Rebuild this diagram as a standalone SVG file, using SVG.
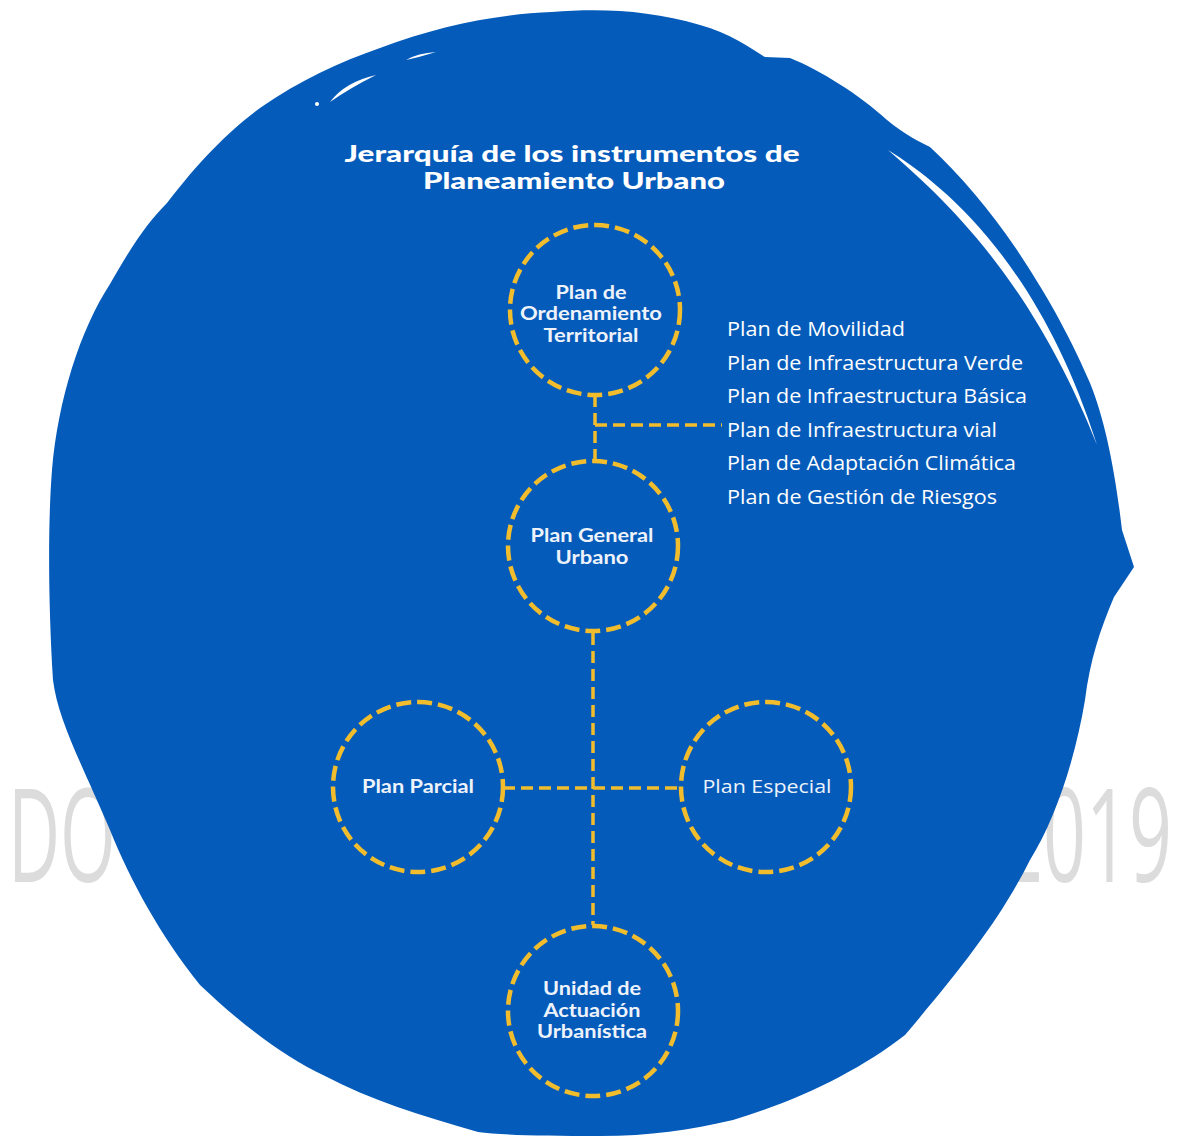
<svg xmlns="http://www.w3.org/2000/svg" width="1178" height="1137" viewBox="0 0 1178 1137">
<style>
.wm{font-family:"Open Sans","DejaVu Sans",sans-serif;font-size:130px;fill:#dcdcdc}
.ttl{font-family:Lato,"Liberation Sans",sans-serif;font-weight:900;font-size:23px;fill:#ffffff;text-anchor:middle}
.nd{fill:none;stroke:#f2bd2c;stroke-width:4.5;stroke-dasharray:15 6}
.lbl{font-family:Lato,"Liberation Sans",sans-serif;font-weight:700;font-size:19px;fill:#eef3fb;text-anchor:middle}
.lbl2{font-family:"Open Sans","Liberation Sans",sans-serif;font-size:19px;fill:#eef3fb;text-anchor:middle}
.lst{font-family:"Open Sans","Liberation Sans",sans-serif;font-size:20px;fill:#ffffff}
.cn{fill:none;stroke:#f2bd2c;stroke-width:3.5;stroke-dasharray:12 6}
</style>
<rect width="1178" height="1137" fill="#ffffff"/>
<g id="watermark">
<text class="wm" x="8" y="882" textLength="108" lengthAdjust="spacingAndGlyphs">DO</text>
<text class="wm" x="1000" y="882" textLength="172" lengthAdjust="spacingAndGlyphs">2019</text>
</g>
<g id="background">
<path fill="#055bba" d="M 552 12 C 600 8, 650 10, 700 25 C 730 33, 750 48, 765 57 L 790 58 C 820 70, 860 95, 887 120 C 905 135, 920 142, 930 147 C 960 175, 990 210, 1017 250 C 1040 285, 1065 325, 1090 383 C 1105 420, 1115 470, 1122 530 L 1134 567 L 1114 597 C 1100 630, 1090 660, 1085 700 C 1075 760, 1055 820, 1030 860 C 1000 920, 960 970, 905 1035 C 860 1070, 800 1100, 733 1120 C 690 1130, 650 1136, 600 1136 C 540 1136, 500 1135, 478 1132 C 420 1115, 370 1100, 325 1076 C 280 1055, 237 1020, 200 985 C 160 935, 130 880, 110 830 C 80 760, 58 720, 53 680 C 48 600, 48 520, 52 470 C 58 400, 80 330, 110 284 C 135 240, 150 220, 167 203 C 200 160, 230 130, 260 108 C 300 80, 340 62, 380 48 C 440 25, 500 14, 552 12 Z"/>
<path fill="#ffffff" d="M 888 150 C 945 185, 1040 265, 1097 445 C 1030 275, 940 195, 888 150 Z"/>
<path fill="#ffffff" d="M 330 102 Q 345 82 376 75 Q 350 88 330 102 Z"/>
<path fill="#ffffff" d="M 406 60 Q 418 53 436 52 Q 420 57 406 60 Z"/>
<circle cx="317" cy="104" r="2" fill="#ffffff"/>
</g>
<g id="title">
<text class="ttl" x="572" y="162" textLength="455" lengthAdjust="spacingAndGlyphs">Jerarquía de los instrumentos de</text>
<text class="ttl" x="574" y="189" textLength="302" lengthAdjust="spacingAndGlyphs">Planeamiento Urbano</text>
</g>
<g id="connectors">
<path class="cn" d="M 595 395 V 460"/>
<path class="cn" d="M 595 425 H 722"/>
<path class="cn" d="M 593 633 V 925"/>
<path class="cn" d="M 503 788 H 680"/>
</g>
<g id="node-pot">
<circle class="nd" cx="595" cy="310" r="85"/>
<text class="lbl" x="591" y="299" textLength="71" lengthAdjust="spacingAndGlyphs">Plan de</text>
<text class="lbl" x="591" y="320" textLength="142" lengthAdjust="spacingAndGlyphs">Ordenamiento</text>
<text class="lbl" x="591" y="342" textLength="95" lengthAdjust="spacingAndGlyphs">Territorial</text>
</g>
<g id="node-pgu">
<circle class="nd" cx="593" cy="546" r="85"/>
<text class="lbl" x="592" y="542" textLength="123" lengthAdjust="spacingAndGlyphs">Plan General</text>
<text class="lbl" x="592" y="564" textLength="73" lengthAdjust="spacingAndGlyphs">Urbano</text>
</g>
<g id="node-parcial">
<circle class="nd" cx="418" cy="787" r="85"/>
<text class="lbl" x="418" y="793" textLength="112" lengthAdjust="spacingAndGlyphs">Plan Parcial</text>
</g>
<g id="node-especial">
<circle class="nd" cx="766" cy="787" r="85"/>
<text class="lbl2" x="767" y="793" textLength="129" lengthAdjust="spacingAndGlyphs">Plan Especial</text>
</g>
<g id="node-unidad">
<circle class="nd" cx="593" cy="1011" r="85"/>
<text class="lbl" x="592" y="995" textLength="98" lengthAdjust="spacingAndGlyphs">Unidad de</text>
<text class="lbl" x="592" y="1017" textLength="97" lengthAdjust="spacingAndGlyphs">Actuación</text>
<text class="lbl" x="592" y="1038" textLength="110" lengthAdjust="spacingAndGlyphs">Urbanística</text>
</g>
<g id="list">
<text class="lst" x="727" y="336" textLength="178" lengthAdjust="spacingAndGlyphs">Plan de Movilidad</text>
<text class="lst" x="727" y="370" textLength="296" lengthAdjust="spacingAndGlyphs">Plan de Infraestructura Verde</text>
<text class="lst" x="727" y="403" textLength="300" lengthAdjust="spacingAndGlyphs">Plan de Infraestructura Básica</text>
<text class="lst" x="727" y="437" textLength="270" lengthAdjust="spacingAndGlyphs">Plan de Infraestructura vial</text>
<text class="lst" x="727" y="470" textLength="289" lengthAdjust="spacingAndGlyphs">Plan de Adaptación Climática</text>
<text class="lst" x="727" y="504" textLength="270" lengthAdjust="spacingAndGlyphs">Plan de Gestión de Riesgos</text>
</g>
</svg>
